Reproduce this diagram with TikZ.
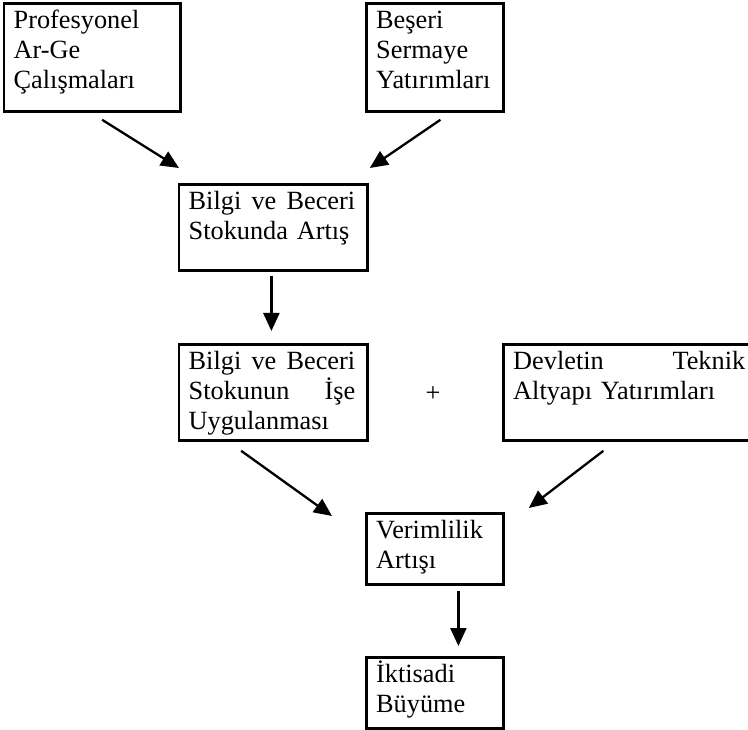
\documentclass[tikz,border=0pt]{standalone}
\usepackage{fontspec}
\setmainfont{Liberation Serif}
\usetikzlibrary{arrows.meta}

\begin{document}
\begin{tikzpicture}[x=1pt,y=-1pt]
	
	% --- estilos ---
	\tikzset{
		caja/.style 2 args = {draw, line width=2.8pt, minimum width=#1, minimum height=#2,
			inner sep=0pt, anchor=north west},
		texto/.style = {anchor=base west, inner sep=0pt, align=left,
			font=\fontsize{26.3}{30}\selectfont},
		flecha/.style = {-{Triangle[length=18pt,width=16pt]}, line width=2.3pt},
	}
	
	% macro para una caja con su texto
	\newcommand{\Caja}[6]{% #1=nombre, #2=x, #3=y, #4=ancho, #5=alto, #6=texto
		\node[caja={#4}{#5}] (#1) at (#2,#3) {};
		\node[texto, text width=#4-22] (#1-t) at ([shift={(11,26.5)}]#1.north west) {#6};
	}
	
	\useasboundingbox (0,0) rectangle (748,730);
	
	% fila 1
	\Caja{arge}{2.5}{2.5}{176.5}{107.5}{Profesyonel\\ Ar-Ge\\ Çalışmaları}
	\Caja{beseri}{365}{2.5}{137}{107.5}{Beşeri\\ Sermaye\\ Yatırımları}
	
	% fila 2
	\Caja{stok}{177.5}{183}{188.5}{86}{Bilgi \hfill ve \hfill Beceri\\ Stokunda Artış}
	
	% fila 3
	\Caja{uygulama}{177.5}{343}{188.5}{96}{Bilgi \hfill ve \hfill Beceri\\ Stokunun \hfill İşe\\ Uygulanması}
	\Caja{altyapi}{502}{343}{254}{96}{Devletin \hfill Teknik\\ Altyapı Yatırımları}
	\node[texto, anchor=center] (arti) at (433,394) {+};
	
	% fila 4 y 5
	\Caja{verim}{365}{512}{137}{71}{Verimlilik\\ Artışı}
	\Caja{buyume}{365}{656}{137}{71}{İktisadi\\ Büyüme}
	
	% flechas
	\draw[flecha] ([shift={(10,7)}]arge.south) -- ([shift={(1.5,-15)}]stok.north west);
	\draw[flecha] ([shift={(5.5,7)}]beseri.south) -- ([shift={(1,-15)}]stok.north east);
	\draw[flecha] ([shift={(-1.75,4)}]stok.south) -- ([shift={(-1.75,-12)}]uygulama.north);
	\draw[flecha] ([shift={(-32,9)}]uygulama.south) -- ([shift={(-33,4)}]verim.north west);
	\draw[flecha] ([shift={(-27,9)}]altyapi.south) -- ([shift={(24,-4)}]verim.north east);
	\draw[flecha] ([shift={(23.5,5)}]verim.south) -- ([shift={(23.5,-10)}]buyume.north);
	
\end{tikzpicture}
\end{document}
